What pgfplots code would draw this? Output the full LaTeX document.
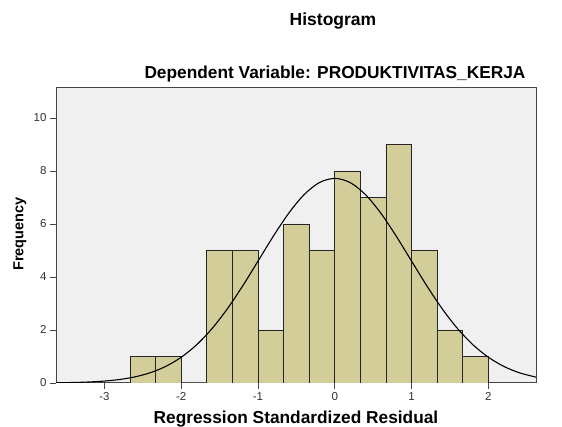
\documentclass[border=0pt]{standalone}
\usepackage{fontspec}
\setmainfont{Liberation Sans}
\usepackage{pgfplots}
\pgfplotsset{compat=1.18}
\definecolor{barfill}{RGB}{211,206,153}
\definecolor{plotbg}{RGB}{240,240,240}
\definecolor{framecol}{RGB}{70,70,70}
\definecolor{ticktext}{RGB}{50,50,50}
\begin{document}
\begin{tikzpicture}[x=1pt,y=1pt]
\useasboundingbox (0,0) rectangle (562,427);
\begin{axis}[
  scale only axis,
  width=480pt, height=295pt,
  at={(56pt,44pt)}, anchor=south west,
  xmin=-3.63, xmax=2.62, ymin=0, ymax=11.13,
  xtick={-3,-2,-1,0,1,2},
  ytick={0,2,4,6,8,10},
  tick align=outside, tick pos=left,
  major tick length=6pt,
  tick style={framecol, line width=0.8pt},
  axis line style={framecol, line width=1pt},
  axis background/.style={fill=plotbg},
  ticklabel style={font=\fontsize{11.5}{12}\selectfont, text=ticktext},
  /pgf/number format/assume math mode=true,
  clip=true,
]
\addplot[ybar interval, fill=barfill, draw=black!85, line width=0.9pt] coordinates {
(-2.6667,1) (-2.3333,1) (-2.0,0) (-1.6667,5) (-1.3333,5) (-1.0,2) (-0.6667,6)
(-0.3333,5) (0.0,8) (0.3333,7) (0.6667,9) (1.0,5) (1.3333,2) (1.6667,1) (2.0,1)
};
\addplot[black, line width=1.1pt, smooth, no marks] coordinates {
(-3.63,0.0083) (-3.4,0.0193) (-3.2,0.0382) (-3.0,0.0726) (-2.8,0.1325)
(-2.6,0.2320) (-2.4,0.3894) (-2.2,0.6274) (-2.0,0.9705) (-1.8,1.439)
(-1.6,2.047) (-1.4,2.794) (-1.2,3.659) (-1.0,4.597) (-0.8,5.540)
(-0.6,6.405) (-0.4,7.105) (-0.2,7.562) (0.0,7.72) (0.2,7.562)
(0.4,7.105) (0.6,6.405) (0.8,5.540) (1.0,4.597) (1.2,3.659)
(1.4,2.794) (1.6,2.047) (1.8,1.439) (2.0,0.9705) (2.2,0.6274)
(2.4,0.3894) (2.62,0.2198)
};
\end{axis}
\node[inner sep=0pt, font=\bfseries\fontsize{17.5}{19}\selectfont] at (333,406) {Histogram};
\node[inner sep=0pt, font=\bfseries\fontsize{17.3}{19}\selectfont] at (335,353) {Dependent Variable: PRODUKTIVITAS\_KERJA};
\node[inner sep=0pt, rotate=90, font=\bfseries\fontsize{14.5}{16}\selectfont] at (20,193) {Frequency};
\node[inner sep=0pt, anchor=base, font=\bfseries\fontsize{17.3}{19}\selectfont] at (296,3.8) {Regression Standardized Residual};
\end{tikzpicture}
\end{document}
